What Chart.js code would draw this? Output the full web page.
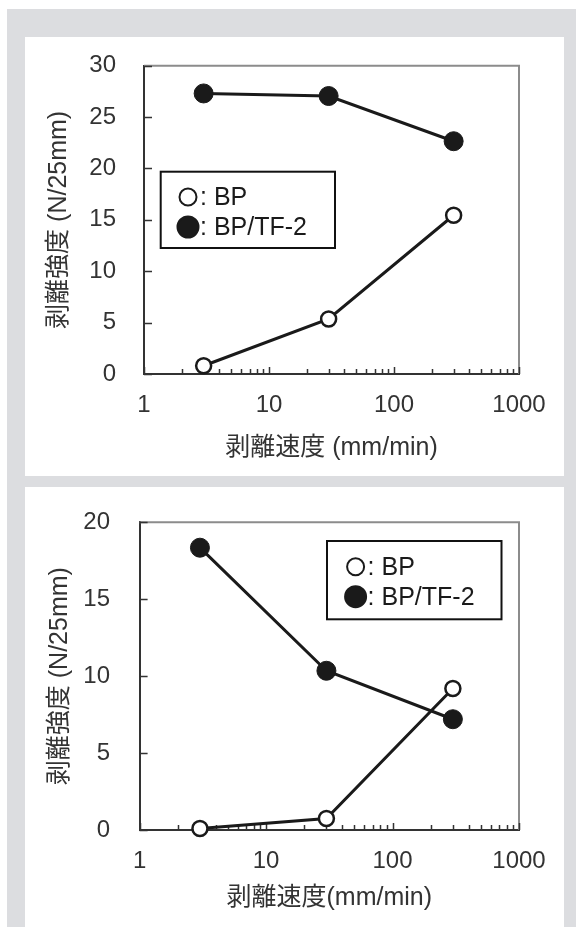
<!DOCTYPE html>
<html>
<head>
<meta charset="utf-8">
<script src="https://cdn.jsdelivr.net/npm/chart.js@4/dist/chart.umd.min.js"></script>
<style>
  body { margin: 0; background: #fff; width: 576px; height: 927px; position: relative; overflow: hidden; }
  .frame { position: absolute; left: 7px; top: 9px; right: 0; bottom: 0; background: #dcdde0; }
  .panel { position: absolute; left: 25px; width: 539px; background: #fff; }
  #p1 { top: 37px; height: 439px; }
  #p2 { top: 487px; height: 440px; }
  canvas { display: block; }
</style>
</head>
<body>
<div class="frame"></div>
<div class="panel" id="p1"><canvas id="chartTop" width="539" height="439"></canvas></div>
<div class="panel" id="p2"><canvas id="chartBottom" width="539" height="440"></canvas></div>
<script>
// peel speed (mm/min)
const speeds = [3, 30, 300];

// top graph
const bpTop = [0.8, 5.35, 15.45];
const tfTop = [27.3, 27.05, 22.65];

// bottom graph
const bpBottom = [0.1, 0.75, 9.2];
const tfBottom = [18.35, 10.35, 7.2];

const xTickValues = [1, 2, 3, 4, 5, 6, 7, 8, 9, 10, 20, 30, 40, 50, 60, 70, 80, 90, 100, 200, 300, 400, 500, 600, 700, 800, 900, 1000];
const xTickLabels = ['1', '10', '100', '1000'];
const seriesLabels = ['BP', 'BP/TF-2'];
const xTitle = '剥離速度 (mm/min)';
const yTitle = '剥離強度 (N/25mm)';

const fontFamily = "'Liberation Sans', Arial, 'Noto Sans CJK JP', sans-serif";
const ink = '#1a1a1a';
const textColor = '#333';

const toPoints = (ys) => ys.map((y, i) => ({ x: speeds[i], y: y }));

// inward ticks plus the grey top/right frame lines
const frameTicks = {
    id: 'frameTicks',
    beforeDatasetsDraw(chart) {
        const c = chart.ctx;
        const a = chart.chartArea;
        const xs = chart.scales.x;
        const ys = chart.scales.y;
        c.save();
        c.strokeStyle = '#8c8c8c';
        c.lineWidth = 2;
        c.beginPath();
        c.moveTo(a.left, a.top);
        c.lineTo(a.right, a.top);
        c.lineTo(a.right, a.bottom);
        c.stroke();

        c.strokeStyle = '#333';
        c.lineWidth = 1.5;
        c.beginPath();
        ys.ticks.forEach(t => {
            const py = Math.round(ys.getPixelForValue(t.value)) + 0.5;
            c.moveTo(a.left, py);
            c.lineTo(a.left + 8, py);
        });
        xs.ticks.forEach(t => {
            const px = Math.round(xs.getPixelForValue(t.value)) + 0.5;
            const len = xTickLabels.includes(String(t.value)) ? 7 : 5;
            c.moveTo(px, a.bottom);
            c.lineTo(px, a.bottom - len);
        });
        c.stroke();
        c.restore();
    }
};

// framed legend drawn inside the plot
const boxLegend = {
    id: 'boxLegend',
    afterDraw(chart, args, opts) {
        const c = chart.ctx;
        c.save();
        c.lineWidth = 2;
        c.strokeStyle = '#111';
        c.strokeRect(opts.x, opts.y, opts.w, opts.h);
        chart.data.datasets.forEach((ds, i) => {
            const cy = opts.y + opts.first + i * opts.gap;
            c.beginPath();
            c.arc(opts.x + opts.markX, cy, ds.pointRadius + 1, 0, 2 * Math.PI);
            c.fillStyle = ds.pointBackgroundColor;
            c.fill();
            c.lineWidth = 2;
            c.strokeStyle = ds.pointBorderColor;
            c.stroke();
            c.fillStyle = '#1a1a1a';
            c.font = '25px ' + fontFamily;
            c.textBaseline = 'middle';
            c.fillText(': ' + ds.label, opts.x + opts.textX, cy + 1);
        });
        c.restore();
    }
};

const makeDatasets = (bp, tf) => [
    {
        label: seriesLabels[0],
        data: toPoints(bp),
        borderColor: ink,
        borderWidth: 3,
        pointRadius: 7.5,
        pointBorderWidth: 2.5,
        pointBackgroundColor: '#fff',
        pointBorderColor: ink
    },
    {
        label: seriesLabels[1],
        data: toPoints(tf),
        borderColor: ink,
        borderWidth: 3,
        pointRadius: 9.5,
        pointBorderWidth: 1,
        pointBackgroundColor: ink,
        pointBorderColor: ink
    }
];

const myPeelChart = (id, bp, tf, yMax, lay) => {
    var ctx = document.getElementById(id).getContext('2d');

    return new Chart(ctx, {
        type: 'line',
        data: { datasets: makeDatasets(bp, tf) },
        plugins: [frameTicks, boxLegend],
        options: {
            responsive: false,
            animation: false,
            clip: false,
            layout: { padding: { top: lay.top, right: 45, left: 0, bottom: 0 } },
            plugins: {
                legend: { display: false },
                tooltip: { enabled: false },
                boxLegend: lay.legend
            },
            scales: {
                x: {
                    type: 'logarithmic',
                    min: 1,
                    max: 1000,
                    afterFit: (s) => {
                        s.height = lay.xHeight;
                        s.paddingLeft = 0;
                        s.paddingRight = 0;
                    },
                    afterBuildTicks: (s) => { s.ticks = xTickValues.map(v => ({ value: v })); },
                    grid: { display: true, drawOnChartArea: false, drawTicks: false },
                    border: { color: '#333', width: 2 },
                    ticks: {
                        autoSkip: false,
                        maxRotation: 0,
                        padding: 17,
                        color: textColor,
                        font: { family: fontFamily, size: 24 },
                        callback: (v) => xTickLabels.includes(String(v)) ? String(v) : ''
                    },
                    title: {
                        display: true,
                        text: lay.xTitle,
                        color: textColor,
                        font: { family: fontFamily, size: 25 },
                        padding: { top: 0, bottom: lay.xTitlePad }
                    }
                },
                y: {
                    min: 0,
                    max: yMax,
                    afterFit: (s) => {
                        s.width = lay.yWidth;
                        s.paddingTop = 0;
                        s.paddingBottom = 0;
                    },
                    grid: { display: true, drawOnChartArea: false, drawTicks: false },
                    border: { color: '#333', width: 2 },
                    ticks: {
                        stepSize: 5,
                        padding: lay.yTickPad,
                        color: textColor,
                        font: { family: fontFamily, size: 24 }
                    },
                    title: {
                        display: true,
                        text: yTitle,
                        color: textColor,
                        font: { family: fontFamily, size: 25 },
                        padding: { top: lay.yTitlePad, bottom: 0 }
                    }
                }
            }
        }
    });
};

myPeelChart('chartTop', bpTop, tfTop, 30, {
    top: 28.7, xHeight: 102, yWidth: 119, yTickPad: 28, yTitlePad: 19, xTitlePad: 12.5,
    xTitle: xTitle,
    legend: { x: 135.7, y: 134.7, w: 174.3, h: 76.3, markX: 27.3, first: 25.3, gap: 30, textX: 39.3 }
});

myPeelChart('chartBottom', bpBottom, tfBottom, 20, {
    top: 35.3, xHeight: 97, yWidth: 114.6, yTickPad: 29.6, yTitlePad: 20.6, xTitlePad: 13.5,
    xTitle: '剥離速度(mm/min)',
    legend: { x: 302, y: 54, w: 174.5, h: 78.3, markX: 28.6, first: 25.7, gap: 30, textX: 40.6 }
});
</script>
</body>
</html>
